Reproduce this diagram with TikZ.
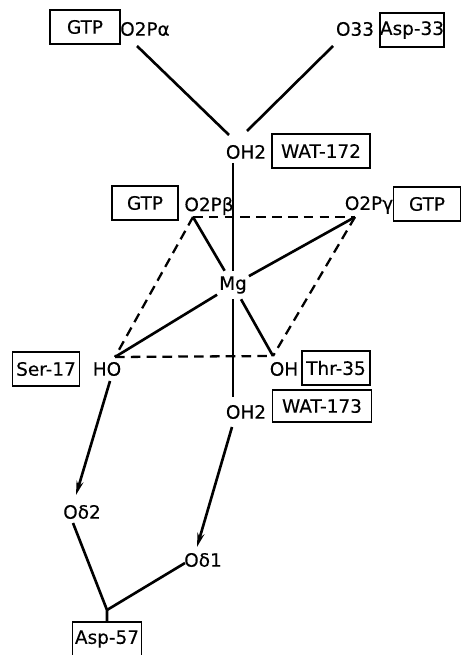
\documentclass[tikz,border=0pt]{standalone}
\usepackage{fontspec}
\setmainfont[FakeBold=0.3]{DejaVu Sans}
\usetikzlibrary{arrows.meta}
\tikzset{
  mgatom/.style={inner sep=0pt, font=\fontsize{10.5}{12}\selectfont},
  mgres/.style={rectangle, draw=black, line width=1.1pt, minimum height=0.67cm, inner sep=0pt, font=\fontsize{10.5}{12}\selectfont},
  mgbond/.style={draw=black, line width=1.5pt},
  mghb/.style={draw=black, line width=1.3pt, dash pattern=on 5.5pt off 3.5pt},
  mgarr/.style={mgbond, -{Stealth[length=8pt,width=4pt]}}
}

\begin{document}
\begin{tikzpicture}[x=0.02cm, y=-0.02cm]
  \useasboundingbox (0,0) rectangle (461,655);
  % residues and ligand atoms
  \node[mgres, minimum width=1.4cm]  (gtpa)   at (85,27)   {GTP};
  \node[mgatom]                      (pa)     at (145,29)  {O2Pα};
  \node[mgatom]                      (o33)    at (355,29)  {O33};
  \node[mgres, minimum width=1.28cm] (asp33)  at (412,30)  {Asp-33};
  \node[mgatom]                      (w1)     at (246,152) {OH2};
  \node[mgres, minimum width=1.96cm] (wat172) at (321,151) {WAT-172};
  \node[mgres, minimum width=1.32cm] (gtpb)   at (145,203) {GTP};
  \node[mgatom]                      (pb)     at (209,206) {O2Pβ};
  \node[mgatom]                      (pg)     at (369,205) {O2Pγ};
  \node[mgres, minimum width=1.34cm] (gtpg)   at (427,204) {GTP};
  \node[mgatom, inner xsep=1pt, inner ysep=3pt] (mg) at (233,285) {Mg};
  \node[mgres, minimum width=1.34cm] (ser17)  at (46,369)  {Ser-17};
  \node[mgatom]                      (ho)     at (107,369) {HO};
  \node[mgatom]                      (oh)     at (284,369) {OH};
  \node[mgres, minimum width=1.36cm] (thr35)  at (336,368) {Thr-35};
  \node[mgatom]                      (w2)     at (246,412) {OH2};
  \node[mgres, minimum width=1.98cm, minimum height=0.64cm] (wat173) at (322,406) {WAT-173};
  \node[mgatom]                      (od2)    at (82,512)  {Oδ2};
  \node[mgatom]                      (od1)    at (203,560) {Oδ1};
  \node[mgres, minimum width=1.38cm] (asp57)  at (107,639) {Asp-57};

  % bond ends
  \coordinate (pab)  at (137,46);
  \coordinate (o33b) at (333,46);
  \coordinate (w1a)  at (229,135);
  \coordinate (w1c)  at (247,131);
  \coordinate (w1b)  at (233,163);
  \coordinate (w2t)  at (233,397);
  \coordinate (vb)   at (193,217);
  \coordinate (vg)   at (355,217);
  \coordinate (vho)  at (115,357);
  \coordinate (voh)  at (273,356);
  \coordinate (hob)  at (110,381);
  \coordinate (od2t) at (76,495);
  \coordinate (w2b)  at (232,427);
  \coordinate (od1t) at (197,547);
  \coordinate (od2b) at (73,523);
  \coordinate (od1b) at (185,563);
  \coordinate (j)    at (107,610);

  \draw[mgbond] (pab) -- (w1a);
  \draw[mgbond] (o33b) -- (w1c);
  \draw[mgbond] (w1b) -- (mg);
  \draw[mgbond] (mg) -- (w2t);
  \draw[mgbond] (vb) -- (mg);
  \draw[mgbond] (mg) -- (vg);
  \draw[mgbond] (mg) -- (vho);
  \draw[mgbond] (mg) -- (voh);
  \draw[mghb] (vb) -- (vg);
  \draw[mghb] (vb) -- (vho);
  \draw[mghb] (vg) -- (voh);
  \draw[mghb] (vho) -- (voh);
  \draw[mgarr] (hob) -- (od2t);
  \draw[mgarr] (w2b) -- (od1t);
  \draw[mgbond] (od2b) -- (j) -- (asp57.north);
  \draw[mgbond] (od1b) -- (j);
\end{tikzpicture}
\end{document}
